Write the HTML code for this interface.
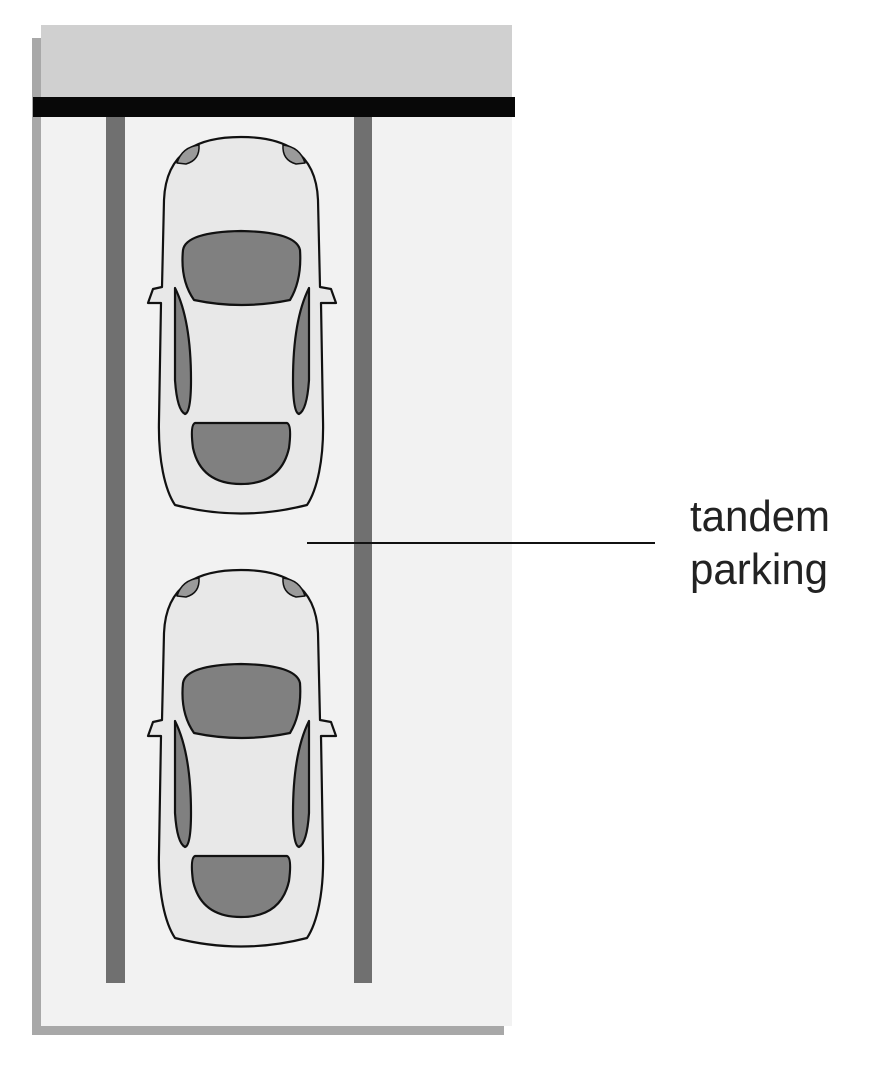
<!DOCTYPE html>
<html><head><meta charset="utf-8"><style>html,body{margin:0;padding:0;background:#fff;width:870px;height:1080px;overflow:hidden}</style></head>
<body>
<svg width="870" height="1080" viewBox="0 0 870 1080" xmlns="http://www.w3.org/2000/svg">
<defs>
<g id="car" stroke="#111" stroke-width="2.2" stroke-linejoin="round">
<path fill="#e8e8e8" d="M241,137 C200,137 166,150 164,200 L162,287 L153,289 L148,303 L161,303 L159,420 C158,460 165,490 175,505 Q241,522 307,505 C317,490 324,460 323,420 L321,303 L336,303 L331,289 L320,287 L318,200 C316,150 282,137 241,137 Z"/>
<path fill="#9a9a9a" stroke-width="1.5" d="M177,163 Q182,147 199,145 Q200,160 186,164 Z"/>
<path fill="#9a9a9a" stroke-width="1.5" d="M305,163 Q300,147 283,145 Q282,160 296,164 Z"/>
<path fill="#808080" d="M183,250 Q186,232 241,231 Q296,232 300,250 Q302,280 290,300 Q241,310 194,300 Q180,280 183,250 Z"/>
<path fill="#808080" d="M195,423 L287,423 Q292,425 289,448 Q281,484 241,484 Q201,484 193,448 Q190,425 195,423 Z"/>
<path fill="#808080" d="M175,288 Q191,320 191,380 Q191,413 185,414 Q177,410 175,380 Z"/>
<path fill="#808080" d="M309,288 Q293,320 293,380 Q293,413 299,414 Q307,410 309,380 Z"/>
</g>
</defs>
<rect x="32" y="38" width="472" height="997" fill="#a8a8a8"/>
<rect x="41" y="25" width="471" height="1001" fill="#f2f2f2"/>
<rect x="41" y="25" width="471" height="73" fill="#d0d0d0"/>
<rect x="33" y="97" width="482" height="20" fill="#080808"/>
<rect x="106" y="117" width="19" height="866" fill="#707070"/>
<rect x="354" y="117" width="18" height="866" fill="#707070"/>
<use href="#car"/>
<use href="#car" transform="translate(0,433)"/>
<line x1="307" y1="543" x2="655" y2="543" stroke="#111" stroke-width="2"/>
<text x="690" y="531" font-family="Liberation Sans, sans-serif" font-size="44" fill="#222" textLength="140" lengthAdjust="spacingAndGlyphs">tandem</text>
<text x="690" y="584" font-family="Liberation Sans, sans-serif" font-size="44" fill="#222" textLength="138" lengthAdjust="spacingAndGlyphs">parking</text>
</svg>
</body></html>
